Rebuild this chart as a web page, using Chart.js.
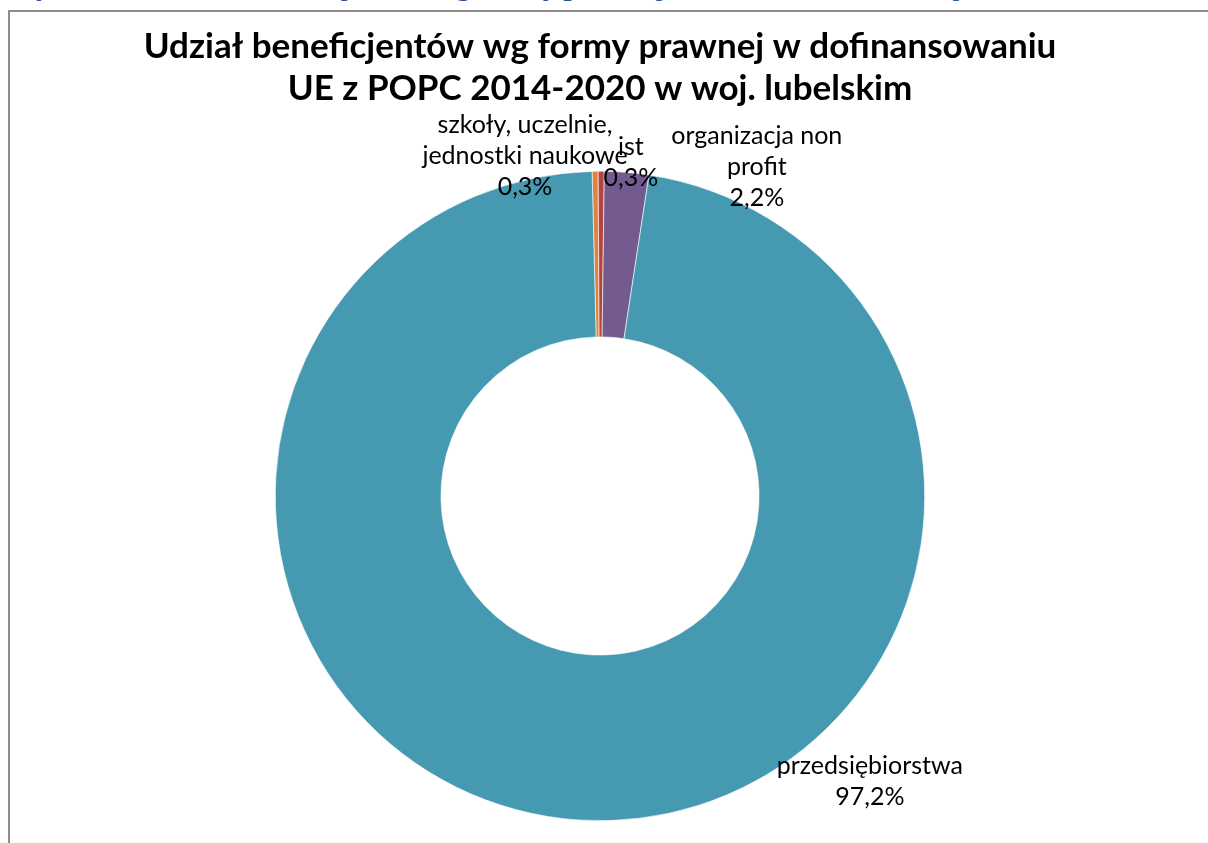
<!DOCTYPE html>
<html>
<head>
<meta charset="utf-8">
<script src="https://cdn.jsdelivr.net/npm/chart.js@4/dist/chart.umd.min.js"></script>
<style>
  html, body { margin: 0; padding: 0; background: #fff; overflow: hidden; }
  #wrap { position: relative; width: 1208px; height: 843px; }
  #caption {
    position: absolute; left: 10px; top: -24px; white-space: nowrap;
    font: bold 23px "DejaVu Serif", serif; line-height: 1; color: #2f5496;
  }
  #frame {
    position: absolute; left: 8px; top: 10px; width: 1400px; height: 1000px;
    border-left: 2px solid #8c8c8c; border-top: 2px solid #8c8c8c;
  }
  #chart { position: absolute; left: 0; top: 0; }
</style>
</head>
<body>
<div id="wrap">
  <div id="caption">Wykres 45. Udział beneficjentów wg formy prawnej w dofinansowaniu, woj. lubelskie</div>
  <div id="frame"></div>
  <canvas id="chart" width="1208" height="843"></canvas>
</div>
<script>
// ==========================================================================
// Data
// ==========================================================================
var categories = [
  ['szkoły, uczelnie,', 'jednostki naukowe'],
  ['ist'],
  ['organizacja non', 'profit'],
  ['przedsiębiorstwa']
];
var shares = [0.3, 0.3, 2.2, 97.2];
var titleLines = [
  'Udział beneficjentów wg formy prawnej w dofinansowaniu',
  'UE z POPC 2014-2020 w woj. lubelskim'
];

var sliceColors = ['#e0843d', '#b5443e', '#735a8f', '#4599b1'];

// label block centres, relative to the pie centre, in outer radius units
var labelAnchor = [
  [-0.231, -1.046],
  [0.095, -1.028],
  [0.483, -1.012],
  [0.831, 0.880]
];

function fmtPct(v) {
  return v.toFixed(1).replace('.', ',') + '%';
}

// ==========================================================================
// Outside labels
// ==========================================================================
var sliceLabels = {
  id: 'sliceLabels',
  afterDatasetsDraw: function (chart) {
    var ctx = chart.ctx;
    var arcs = chart.getDatasetMeta(0).data;
    var lineH = 31;
    ctx.save();
    ctx.font = '25px Lato, sans-serif';
    ctx.fillStyle = '#000';
    ctx.textAlign = 'center';
    ctx.textBaseline = 'middle';
    arcs.forEach(function (arc, i) {
      var p = arc.getProps(['x', 'y', 'outerRadius'], true);
      var lines = categories[i].concat([fmtPct(shares[i])]);
      var cx = p.x + labelAnchor[i][0] * p.outerRadius;
      var cy = p.y + labelAnchor[i][1] * p.outerRadius;
      var top = cy - (lines.length - 1) * lineH / 2;
      lines.forEach(function (t, k) {
        ctx.fillText(t, cx, top + k * lineH);
      });
    });
    ctx.restore();
  }
};

var chart = new Chart(document.getElementById('chart'), {
  type: 'doughnut',
  data: {
    labels: categories.map(function (c) { return c.join(' '); }),
    datasets: [{
      data: shares,
      backgroundColor: sliceColors,
      borderColor: '#ffffff',
      borderWidth: 0.6
    }]
  },
  options: {
    responsive: false,
    animation: false,
    cutout: '49%',
    rotation: -1.4,
    layout: { padding: { left: 0, right: 8, top: 0, bottom: 22 } },
    plugins: {
      legend: { display: false },
      tooltip: { enabled: false },
      title: {
        display: true,
        text: titleLines,
        color: '#000',
        font: { family: 'Lato', size: 35, weight: 'bold', lineHeight: 1.2 },
        padding: { top: 26, bottom: 61 }
      }
    }
  },
  plugins: [sliceLabels]
});
</script>
</body>
</html>
